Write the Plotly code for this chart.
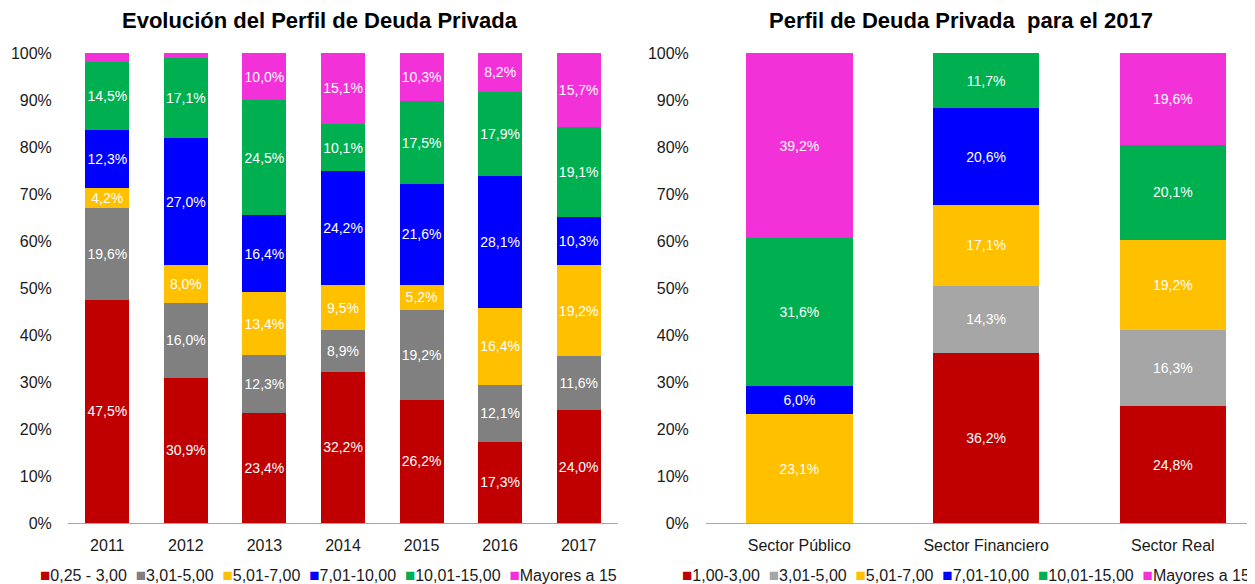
import plotly.graph_objects as go

# ---------------- data ----------------
years = ["2011", "2012", "2013", "2014", "2015", "2016", "2017"]
left_names = ["0,25 - 3,00", "3,01-5,00", "5,01-7,00", "7,01-10,00", "10,01-15,00", "Mayores a 15"]
l_025_300 = [47.5, 30.9, 23.4, 32.2, 26.2, 17.3, 24.0]
l_301_500 = [19.6, 16.0, 12.3, 8.9, 19.2, 12.1, 11.6]
l_501_700 = [4.2, 8.0, 13.4, 9.5, 5.2, 16.4, 19.2]
l_701_1000 = [12.3, 27.0, 16.4, 24.2, 21.6, 28.1, 10.3]
l_1001_1500 = [14.5, 17.1, 24.5, 10.1, 17.5, 17.9, 19.1]
l_mayores = [1.9, 1.0, 10.0, 15.1, 10.3, 8.2, 15.7]
l_mayores_labels = ["", "", "10,0%", "15,1%", "10,3%", "8,2%", "15,7%"]

sectors = ["Sector Público", "Sector Financiero", "Sector Real"]
right_names = ["1,00-3,00", "3,01-5,00", "5,01-7,00", "7,01-10,00", "10,01-15,00", "Mayores a 15"]
r_100_300 = [0, 36.2, 24.8]
r_301_500 = [0, 14.3, 16.3]
r_501_700 = [23.1, 17.1, 19.2]
r_701_1000 = [6.0, 20.6, 0]
r_1001_1500 = [31.6, 11.7, 20.1]
r_mayores = [39.2, 0, 19.6]

y_ticks = [0, 10, 20, 30, 40, 50, 60, 70, 80, 90, 100]
y_tick_labels = ["0%", "10%", "20%", "30%", "40%", "50%", "60%", "70%", "80%", "90%", "100%"]

left_colors = ["#C00000", "#808080", "#FFC000", "#0000FF", "#00B050", "#F331D8"]
right_colors = ["#C00000", "#A6A6A6", "#FFC000", "#0000FF", "#00B050", "#F331D8"]

# page offset (default body margin) -> figure is drawn smaller
VW, VH = 1255, 584
OFF = 8
W, H = VW - OFF, VH - OFF
FONT = "Liberation Sans, Arial, sans-serif"


def px(x):
    return (x - OFF) / W


def py(y):
    return 1 - (y - OFF) / H


def fmt(v):
    return "" if v == 0 else f"{v:.1f}".replace(".", ",") + "%"


fig = go.Figure()

left_series = [l_025_300, l_301_500, l_501_700, l_701_1000, l_1001_1500, l_mayores]
for i, (name, vals) in enumerate(zip(left_names, left_series)):
    labels = l_mayores_labels if i == 5 else [fmt(v) for v in vals]
    fig.add_trace(go.Bar(
        x=years, y=vals, name=name, text=labels,
        marker=dict(color=left_colors[i], line=dict(width=0)),
        width=0.56, textposition="inside", insidetextanchor="middle",
        textangle=0, textfont=dict(color="white", size=14, family=FONT),
        xaxis="x", yaxis="y", showlegend=False, hoverinfo="x+y+name",
    ))

right_series = [r_100_300, r_301_500, r_501_700, r_701_1000, r_1001_1500, r_mayores]
for i, (name, vals) in enumerate(zip(right_names, right_series)):
    fig.add_trace(go.Bar(
        x=sectors, y=vals, name=name, text=[fmt(v) for v in vals],
        marker=dict(color=right_colors[i], line=dict(width=0)),
        width=0.57, textposition="inside", insidetextanchor="middle",
        textangle=0, textfont=dict(color="white", size=14, family=FONT),
        xaxis="x2", yaxis="y2", showlegend=False, hoverinfo="x+y+name",
    ))

# plot area in (viewport) pixels
y_top, y_bot = 53, 523
dom_y = [py(y_bot), py(y_top)]

axis_common = dict(
    showgrid=False, zeroline=False, automargin=False,
    tickfont=dict(size=16, color="#1a1a1a", family=FONT),
)

fig.update_layout(
    width=W, height=H,
    margin=dict(l=0, r=0, t=0, b=0, pad=0, autoexpand=False),
    paper_bgcolor="white", plot_bgcolor="white",
    barmode="stack",
    showlegend=False,
    uniformtext=dict(minsize=14, mode="show"),
    font=dict(family=FONT, color="#1a1a1a"),
    xaxis=dict(domain=[px(68), px(618)], type="category", range=[-0.5, 6.5],
               showline=True, linecolor="#A6A6A6", linewidth=1.3,
               ticks="outside", ticklen=8, tickcolor="rgba(0,0,0,0)",
               anchor="y", **axis_common),
    yaxis=dict(domain=dom_y, range=[0, 100], tickvals=y_ticks, ticktext=y_tick_labels,
               showline=False, ticks="outside", ticklen=12, tickcolor="rgba(0,0,0,0)",
               anchor="x", **axis_common),
    xaxis2=dict(domain=[px(706), 1.0], type="category", range=[-0.5, 2.44],
                showline=True, linecolor="#A6A6A6", linewidth=1.3,
                ticks="outside", ticklen=8, tickcolor="rgba(0,0,0,0)",
                anchor="y2", **axis_common),
    yaxis2=dict(domain=dom_y, range=[0, 100], tickvals=y_ticks, ticktext=y_tick_labels,
                showline=False, ticks="outside", ticklen=13, tickcolor="rgba(0,0,0,0)",
                anchor="x2", **axis_common),
)

# titles
fig.add_annotation(text="<b>Evolución del Perfil de Deuda Privada</b>",
                   x=px(320), y=py(21), xref="paper", yref="paper",
                   xanchor="center", yanchor="middle", showarrow=False,
                   font=dict(size=22, color="#000000", family=FONT))
fig.add_annotation(text="<b>Perfil de Deuda Privada\u00a0 para el 2017</b>",
                   x=px(961), y=py(21), xref="paper", yref="paper",
                   xanchor="center", yanchor="middle", showarrow=False,
                   font=dict(size=22, color="#000000", family=FONT))


def legend_text(names, colors):
    parts = []
    for n, c in zip(names, colors):
        parts.append(f'<span style="color:{c};font-size:17px">■</span>{n}')
    return "\u00a0 ".join(parts)


fig.add_annotation(text=legend_text(left_names, left_colors),
                   x=px(328), y=py(575), xref="paper", yref="paper",
                   xanchor="center", yanchor="middle", showarrow=False,
                   font=dict(size=16, color="#1a1a1a", family=FONT))
fig.add_annotation(text=legend_text(right_names, right_colors),
                   x=px(966), y=py(575), xref="paper", yref="paper",
                   xanchor="center", yanchor="middle", showarrow=False,
                   font=dict(size=16, color="#1a1a1a", family=FONT))

fig.write_html("out.html")
